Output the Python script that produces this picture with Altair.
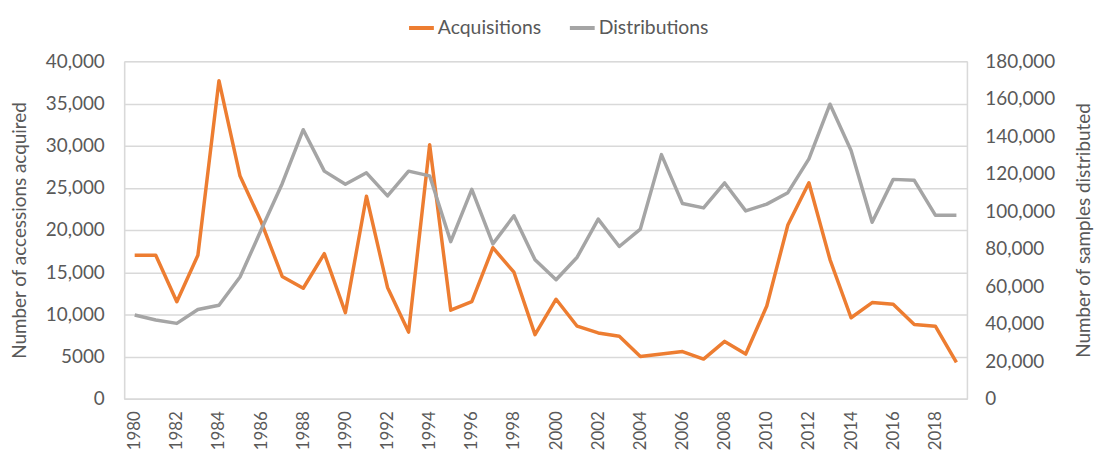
import altair as alt
import pandas as pd

years = list(range(1980, 2020))
acquisitions = [17000, 17000, 11500, 17000, 37700, 26400, 21000, 14500, 13100, 17200,
                10200, 24000, 13200, 7900, 30100, 10500, 11500, 17900, 15000, 7600,
                11800, 8600, 7800, 7400, 5000, 5300, 5600, 4700, 6800, 5300,
                11000, 20600, 25600, 16500, 9600, 11400, 11200, 8800, 8600, 4300]
distributions = [44700, 42000, 40200, 47600, 49900, 64900, 90000, 114700, 143500, 121400,
                 114400, 120500, 108200, 121400, 118900, 83800, 111700, 82600, 97600, 74100,
                 63500, 75500, 95800, 81200, 90500, 130200, 104100, 101800, 115100, 100200,
                 103800, 109900, 127900, 157100, 132400, 94100, 117000, 116500, 97900, 97900]
series_names = ["Acquisitions", "Distributions"]
series_colors = ["#ED7D31", "#A5A5A5"]
left_ticks = list(range(0, 40001, 5000))
right_ticks = list(range(0, 180001, 20000))
year_labels = [y for y in years if y % 2 == 0]

df = pd.DataFrame({
    "year": years * 2,
    "value": acquisitions + distributions,
    "series": [series_names[0]] * len(years) + [series_names[1]] * len(years),
})

FONT = "Lato"
TXT = "#595959"
AXC = "#D9D9D9"

color = alt.Color(
    "series:N",
    scale=alt.Scale(domain=series_names, range=series_colors),
    legend=alt.Legend(
        title=None, orient="none", direction="horizontal",
        legendX=285, legendY=-48,
        symbolType="stroke", symbolSize=625, symbolStrokeWidth=4,
        labelFontSize=19.5, labelFont=FONT, labelColor=TXT,
        columnPadding=20, labelOffset=2,
    ),
)

x = alt.X(
    "year:O",
    title=None,
    axis=alt.Axis(
        values=year_labels, labelAngle=-90, labelAlign="right", labelBaseline="middle",
        labelFontSize=17, labelFont=FONT, labelColor=TXT, labelPadding=12,
        ticks=False, domainColor=AXC, domainWidth=1.5, grid=False,
    ),
)

base = alt.Chart(df)

left = base.transform_filter(alt.datum.series == series_names[0]).mark_line(
    strokeWidth=3.5, strokeJoin="round"
).encode(
    x=x,
    y=alt.Y(
        "value:Q",
        scale=alt.Scale(domain=[0, 40000], nice=False),
        axis=alt.Axis(
            orient="left", values=left_ticks,
            labelExpr="datum.value == 5000 ? '5000' : format(datum.value, ',')",
            title="Number of accessions acquired",
            titleFont=FONT, titleFontSize=19, titleFontWeight="normal", titleColor=TXT,
            titlePadding=16,
            labelFontSize=19, labelFont=FONT, labelColor=TXT, labelPadding=20,
            ticks=False, domainColor=AXC, domainWidth=1.5,
            grid=True, gridColor=AXC, gridWidth=1.5,
        ),
    ),
    color=color,
)

right = base.transform_filter(alt.datum.series == series_names[1]).mark_line(
    strokeWidth=3.5, strokeJoin="round"
).encode(
    x=x,
    y=alt.Y(
        "value:Q",
        scale=alt.Scale(domain=[0, 180000], nice=False),
        axis=alt.Axis(
            orient="right", values=right_ticks,
            labelExpr="format(datum.value, ',')",
            title="Number of samples distributed",
            titleFont=FONT, titleFontSize=19, titleFontWeight="normal", titleColor=TXT,
            titleAngle=270, titleBaseline="top", titlePadding=20,
            labelFontSize=19, labelFont=FONT, labelColor=TXT, labelPadding=18,
            ticks=False, domainColor=AXC, domainWidth=1.5, grid=False,
        ),
    ),
    color=color,
)

chart = alt.layer(left, right).resolve_scale(y="independent").properties(
    width=849, height=340,
    autosize=alt.AutoSizeParams(type="none"),
    padding={"left": 117, "top": 52, "right": 130, "bottom": 56},
).configure_view(stroke=None).configure(background="white")

chart.save("out.html", embed_options={"renderer": "svg", "actions": False})
